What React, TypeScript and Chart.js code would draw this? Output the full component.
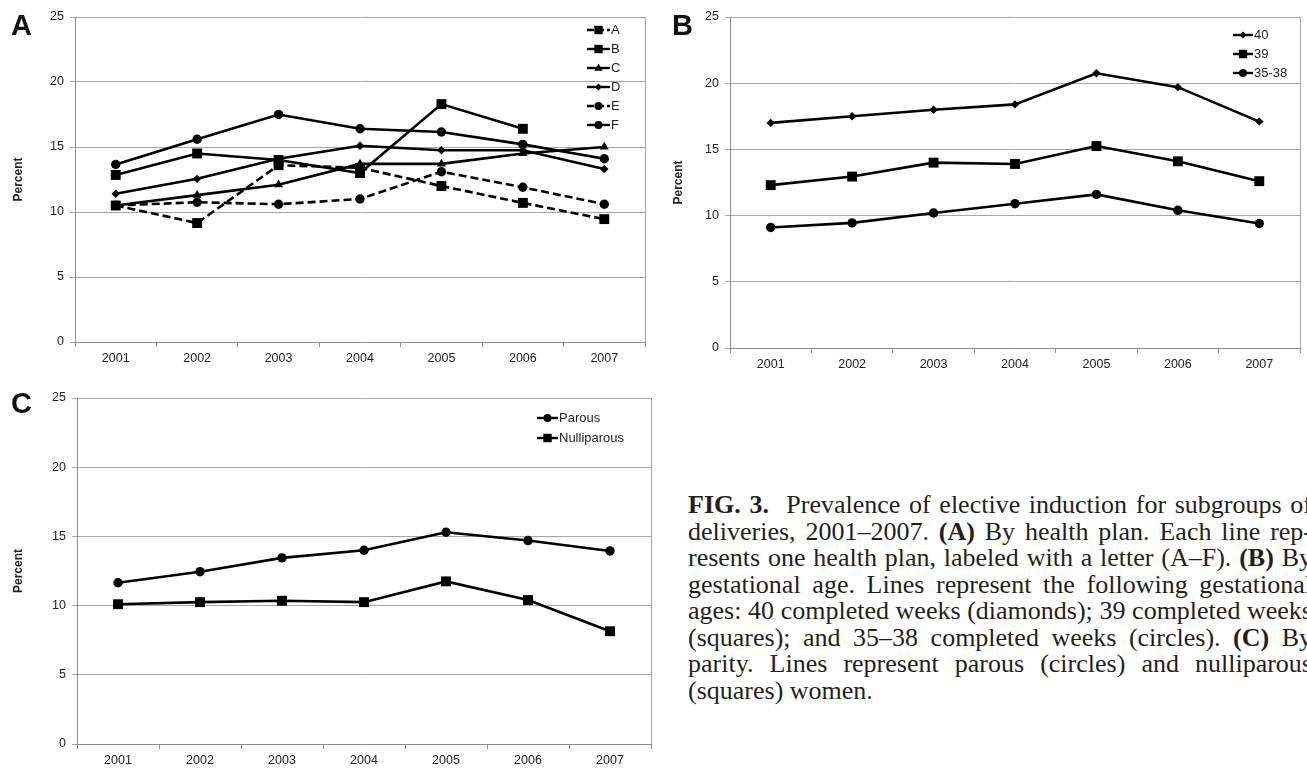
import React, { useEffect, useRef } from 'react';
import { Chart, registerables } from 'chart.js';

Chart.register(...registerables);

// ---------- data ----------
const years = ['2001', '2002', '2003', '2004', '2005', '2006', '2007'];

// Panel A: by health plan
const planA = [10.5, 9.15, 13.6, 13.4, 12.0, 10.7, 9.45];
const planB = [12.85, 14.5, 14.0, 13.0, 18.3, 16.4, null];
const planC = [10.5, 11.3, 12.1, 13.7, 13.7, 14.5, 15.0];
const planD = [11.4, 12.55, 14.1, 15.1, 14.75, 14.75, 13.3];
const planE = [10.5, 10.75, 10.6, 11.0, 13.1, 11.9, 10.6];
const planF = [13.65, 15.6, 17.5, 16.4, 16.15, 15.2, 14.1];

// Panel B: by gestational age
const ga40 = [17.0, 17.5, 18.0, 18.4, 20.75, 19.7, 17.1];
const ga39 = [12.3, 12.95, 14.0, 13.9, 15.25, 14.1, 12.6];
const ga3538 = [9.1, 9.45, 10.2, 10.9, 11.6, 10.4, 9.4];

// Panel C: by parity
const parous = [11.65, 12.45, 13.45, 14.0, 15.3, 14.7, 13.95];
const nulliparous = [10.1, 10.25, 10.35, 10.25, 11.75, 10.4, 8.15];

const yMin = 0;
const yMax = 25;
const yStep = 5;

// ---------- styling helpers ----------
const SANS = '"Liberation Sans", Arial, Helvetica, sans-serif';
const DASH = [8, 4];

type Marker = 'rect' | 'circle' | 'triangle' | 'rectRot';
const markerRadius: Record<Marker, number> = { rect: 7, circle: 4.7, triangle: 5.2, rectRot: 4.2 };

function series(label: string, data: (number | null)[], marker: Marker, dashed = false) {
  return {
    label,
    data,
    borderColor: '#000',
    backgroundColor: '#000',
    borderWidth: 2.6,
    borderDash: dashed ? DASH : [],
    pointStyle: marker,
    pointRadius: markerRadius[marker],
    pointBorderWidth: 0,
    pointBackgroundColor: '#000',
    tension: 0,
    spanGaps: false,
    fill: false,
  };
}

function drawMarker(ctx: CanvasRenderingContext2D, m: Marker, x: number, y: number, r: number) {
  ctx.beginPath();
  if (m === 'rect') {
    const s = r * Math.SQRT1_2;
    ctx.rect(x - s, y - s, 2 * s, 2 * s);
  } else if (m === 'circle') {
    ctx.arc(x, y, r, 0, Math.PI * 2);
  } else if (m === 'triangle') {
    ctx.moveTo(x, y - r);
    ctx.lineTo(x + r * 0.95, y + r * 0.6);
    ctx.lineTo(x - r * 0.95, y + r * 0.6);
    ctx.closePath();
  } else {
    ctx.moveTo(x - r, y);
    ctx.lineTo(x, y - r);
    ctx.lineTo(x + r, y);
    ctx.lineTo(x, y + r);
    ctx.closePath();
  }
  ctx.fill();
}

type LegendItem = { text: string; marker: Marker; dashed?: boolean };

type PanelSpec = {
  letter: string;
  letterX: number;
  letterY: number;
  width: number;
  height: number;
  plot: { left: number; top: number; right: number; bottom: number };
  legend: { x0: number; x1: number; y0: number; dy: number; items: LegendItem[] };
  datasets: any[];
};

function decorPlugin(spec: PanelSpec) {
  return {
    id: 'decor_' + spec.letter,
    afterDraw(chart: any) {
      const ctx: CanvasRenderingContext2D = chart.ctx;
      const { right, top, bottom } = chart.chartArea;
      ctx.save();
      // right border of plot frame
      ctx.strokeStyle = '#a3a3a3';
      ctx.lineWidth = 1;
      ctx.setLineDash([]);
      ctx.beginPath();
      ctx.moveTo(Math.round(right) + 0.5, top);
      ctx.lineTo(Math.round(right) + 0.5, bottom);
      ctx.stroke();

      // panel letter
      ctx.fillStyle = '#111';
      ctx.font = 'bold 29px ' + SANS;
      ctx.textAlign = 'left';
      ctx.textBaseline = 'alphabetic';
      ctx.fillText(spec.letter, spec.letterX, spec.letterY);

      // y axis title
      ctx.save();
      ctx.translate(19, (top + bottom) / 2);
      ctx.rotate(-Math.PI / 2);
      ctx.font = 'bold 12px ' + SANS;
      ctx.textAlign = 'center';
      ctx.textBaseline = 'middle';
      ctx.fillStyle = '#222';
      ctx.fillText('Percent', 0, 0);
      ctx.restore();

      // legend
      const lg = spec.legend;
      lg.items.forEach((it, i) => {
        const y = lg.y0 + i * lg.dy;
        ctx.strokeStyle = '#000';
        ctx.fillStyle = '#000';
        ctx.lineWidth = 2.4;
        ctx.setLineDash(it.dashed ? [7, 3] : []);
        ctx.beginPath();
        ctx.moveTo(lg.x0, y);
        ctx.lineTo(lg.x1, y);
        ctx.stroke();
        ctx.setLineDash([]);
        drawMarker(ctx, it.marker, (lg.x0 + lg.x1) / 2, y, markerRadius[it.marker] * 0.85);
        ctx.font = '13px ' + SANS;
        ctx.textAlign = 'left';
        ctx.textBaseline = 'middle';
        ctx.fillStyle = '#222';
        ctx.fillText(it.text, lg.x1 + 1, y + 0.5);
      });
      ctx.restore();
    },
  };
}

function makeConfig(spec: PanelSpec): any {
  const tickFont = { family: SANS, size: 12.5 };
  const xh = spec.height - spec.plot.bottom;
  const yw = spec.plot.left;
  return {
    type: 'line',
    data: { labels: years, datasets: spec.datasets },
    options: {
      responsive: false,
      maintainAspectRatio: false,
      animation: false,
      devicePixelRatio: 1,
      layout: {
        padding: { top: spec.plot.top, right: spec.width - spec.plot.right, left: 0, bottom: 0 },
      },
      plugins: {
        legend: { display: false },
        tooltip: { enabled: false },
        title: { display: false },
      },
      scales: {
        x: {
          type: 'category',
          offset: true,
          grid: {
            display: true,
            drawOnChartArea: false,
            drawTicks: true,
            tickLength: 5,
            offset: true,
            color: '#8c8c8c',
          },
          border: { display: true, color: '#8c8c8c', width: 1 },
          ticks: { font: tickFont, color: '#222', padding: 4, maxRotation: 0, autoSkip: false },
          afterFit: (s: any) => {
            s.height = xh;
          },
        },
        y: {
          min: yMin,
          max: yMax,
          ticks: { stepSize: yStep, font: tickFont, color: '#222', padding: 6 },
          grid: { color: '#a6a6a6', lineWidth: 1, drawTicks: true, tickLength: 5 },
          border: { display: true, color: '#8c8c8c', width: 1 },
          afterFit: (s: any) => {
            s.width = yw;
          },
        },
      },
    },
    plugins: [decorPlugin(spec)],
  };
}

const specA: PanelSpec = {
  letter: 'A',
  letterX: 11,
  letterY: 35,
  width: 660,
  height: 380,
  plot: { left: 75, top: 17, right: 645, bottom: 342 },
  legend: {
    x0: 587,
    x1: 610,
    y0: 30,
    dy: 19,
    items: [
      { text: 'A', marker: 'rect', dashed: true },
      { text: 'B', marker: 'rect' },
      { text: 'C', marker: 'triangle' },
      { text: 'D', marker: 'rectRot' },
      { text: 'E', marker: 'circle', dashed: true },
      { text: 'F', marker: 'circle' },
    ],
  },
  datasets: [
    series('A', planA, 'rect', true),
    series('B', planB, 'rect'),
    series('C', planC, 'triangle'),
    series('D', planD, 'rectRot'),
    series('E', planE, 'circle', true),
    series('F', planF, 'circle'),
  ],
};

const specB: PanelSpec = {
  letter: 'B',
  letterX: 12,
  letterY: 35,
  width: 647,
  height: 380,
  plot: { left: 70, top: 17, right: 645, bottom: 348 },
  legend: {
    x0: 573,
    x1: 593,
    y0: 35,
    dy: 19,
    items: [
      { text: '40', marker: 'rectRot' },
      { text: '39', marker: 'rect' },
      { text: '35-38', marker: 'circle' },
    ],
  },
  datasets: [series('40', ga40, 'rectRot'), series('39', ga39, 'rect'), series('35-38', ga3538, 'circle')],
};

const specC: PanelSpec = {
  letter: 'C',
  letterX: 11,
  letterY: 33,
  width: 660,
  height: 392,
  plot: { left: 77, top: 18, right: 651, bottom: 364 },
  legend: {
    x0: 537,
    x1: 558,
    y0: 38,
    dy: 20,
    items: [
      { text: 'Parous', marker: 'circle' },
      { text: 'Nulliparous', marker: 'rect' },
    ],
  },
  datasets: [series('Parous', parous, 'circle'), series('Nulliparous', nulliparous, 'rect')],
};

function Panel({ spec, left, top }: { spec: PanelSpec; left: number; top: number }) {
  const ref = useRef<HTMLCanvasElement | null>(null);
  useEffect(() => {
    if (!ref.current) return;
    const chart = new Chart(ref.current, makeConfig(spec));
    return () => chart.destroy();
  }, [spec]);
  return (
    <canvas
      ref={ref}
      width={spec.width}
      height={spec.height}
      style={{ position: 'absolute', left, top, width: spec.width, height: spec.height }}
    />
  );
}

const lineStyle: React.CSSProperties = {
  textAlign: 'justify',
  textAlignLast: 'justify' as any,
  height: 26.5,
  overflow: 'visible',
};

export default function App() {
  return (
    <div
      style={{
        position: 'absolute',
        left: 0,
        top: 0,
        width: 1307,
        height: 772,
        overflow: 'hidden',
        background: '#fff',
      }}
    >
      <Panel spec={specA} left={0} top={0} />
      <Panel spec={specB} left={660} top={0} />
      <Panel spec={specC} left={0} top={380} />
      <div
        style={{
          position: 'absolute',
          left: 688,
          top: 492,
          width: 624,
          fontFamily: '"Liberation Serif", "Times New Roman", Times, serif',
          fontSize: 26,
          lineHeight: '26.5px',
          color: '#231f20',
        }}
      >
        <div style={lineStyle}>
          <b>FIG. 3.</b>&nbsp; Prevalence of elective induction for subgroups of
        </div>
        <div style={lineStyle}>
          deliveries, 2001–2007. <b>(A)</b> By health plan. Each line rep-
        </div>
        <div style={lineStyle}>
          resents one health plan, labeled with a letter (A–F). <b>(B)</b> By
        </div>
        <div style={lineStyle}>gestational age. Lines represent the following gestational</div>
        <div style={lineStyle}>ages: 40 completed weeks (diamonds); 39 completed weeks</div>
        <div style={lineStyle}>
          (squares); and 35–38 completed weeks (circles). <b>(C)</b> By
        </div>
        <div style={lineStyle}>parity. Lines represent parous (circles) and nulliparous</div>
        <div style={{ height: 26.5 }}>(squares) women.</div>
      </div>
    </div>
  );
}
